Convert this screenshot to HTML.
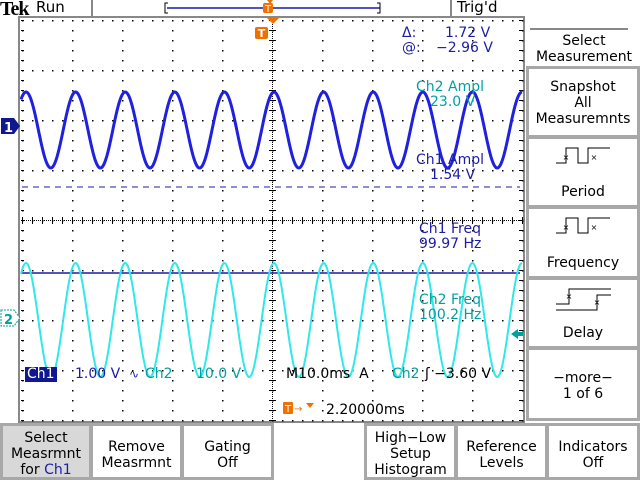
<!DOCTYPE html>
<html><head><meta charset="utf-8"><style>
body{margin:0;width:640px;height:480px;background:#fff;overflow:hidden;font-family:"DejaVu Sans","Liberation Sans",sans-serif;position:relative}
.t{position:absolute;font-size:14px;white-space:nowrap;line-height:15px}
.b{color:#1c1ca8}.c{color:#00a0a0}.k{color:#000}
.box{position:absolute;border:3px solid #a8a8a8;box-sizing:border-box;background:#fff;text-align:center;font-size:14px;line-height:16px;color:#000}
</style></head><body>
<svg width="640" height="480" style="position:absolute;left:0;top:0">
<rect x="19" y="17" width="505" height="405" fill="none" stroke="#888" stroke-width="2"/>
<g id="grid"></g>
<line x1="22" y1="187" x2="520" y2="187" stroke="#1c1ca8" stroke-dasharray="6,5"/>
<line x1="22" y1="273" x2="520" y2="273" stroke="#1c1ca8" stroke-width="1.5"/>
<path id="w2" fill="none" stroke="#30e8e8" stroke-width="2"/>
<path id="w1" fill="none" stroke="#2020e0" stroke-width="3"/>
<line x1="92" y1="0" x2="92" y2="17" stroke="#888" stroke-width="2"/>
<line x1="451" y1="0" x2="451" y2="17" stroke="#888" stroke-width="2"/>
<line x1="167" y1="8" x2="380" y2="8" stroke="#1c1ca8" stroke-width="1.5"/>
<path d="M168,3 h-3 v10 h3 M377,3 h3 v10 h-3" stroke="#000" fill="none"/>
<path d="M267,0 l6,0 l-3,4z" fill="#f07000"/>
<rect x="263" y="3" width="10" height="10" rx="2" fill="#f07000"/>
<text x="268" y="12" font-size="10" fill="#fff" text-anchor="middle" font-family="DejaVu Sans">T</text>
<path d="M267,18 l12,0 l-6,6z" fill="#f07000"/>
<rect x="255" y="27" width="13" height="12" rx="2" fill="#f07000"/>
<text x="261.5" y="37" font-size="11" fill="#fff" text-anchor="middle" font-weight="bold" font-family="DejaVu Sans">T</text>
<path d="M1,118 h13 l6,8 l-6,8 h-13z" fill="#101890"/>
<text x="4" y="132" font-size="13" fill="#fff" font-weight="bold" font-family="DejaVu Sans">1</text>
<path d="M1,310 h13 l6,8 l-6,8 h-13z" fill="#fff" stroke="#00a0a0" stroke-dasharray="2,1"/>
<text x="4" y="324" font-size="13" fill="#00a0a0" font-weight="bold" font-family="DejaVu Sans">2</text>
<path d="M511,334 l7,-5 v3 h5 v4 h-5 v3z" fill="#00a0a0"/>
<line x1="530" y1="29" x2="628" y2="29" stroke="#888" stroke-width="2"/>
<rect x="283" y="402" width="10" height="12" rx="1" fill="#f07000"/>
<text x="288" y="412" font-size="10" fill="#fff" text-anchor="middle" font-family="DejaVu Sans">T</text>
<text x="294" y="412" font-size="10" fill="#f07000" font-family="DejaVu Sans">→</text>
<path d="M306,403 l8,0 l-4,5z" fill="#f07000"/>
</svg>
<div class="t k" style="left:0;top:-1px;font-family:'Liberation Serif',serif;font-weight:bold;font-size:20px;line-height:20px;letter-spacing:-1px">Tek</div>
<div class="t k" style="left:36px;top:0;font-size:15px">Run</div>
<div class="t k" style="left:457px;top:0;font-size:15px">Trig'd</div>
<div class="t b" style="left:402px;top:26px">Δ:</div>
<div class="t b" style="left:445px;top:26px">1.72 V</div>
<div class="t b" style="left:402px;top:41px">@:</div>
<div class="t b" style="left:436px;top:41px">−2.96 V</div>
<div class="t c" style="left:416px;top:80px">Ch2 Ampl</div>
<div class="t c" style="left:430px;top:95px">23.0 V</div>
<div class="t b" style="left:416px;top:153px">Ch1 Ampl</div>
<div class="t b" style="left:430px;top:168px">1.54 V</div>
<div class="t b" style="left:419px;top:222px">Ch1 Freq</div>
<div class="t b" style="left:419px;top:237px">99.97 Hz</div>
<div class="t c" style="left:419px;top:293px">Ch2 Freq</div>
<div class="t c" style="left:419px;top:308px">100.2 Hz</div>
<div class="t" style="left:25px;top:367px;background:#101890;color:#fff;padding:0 2px">Ch1</div>
<div class="t b" style="left:75px;top:367px">1.00 V</div>
<div class="t b" style="left:129px;top:367px;font-size:12px">∿</div>
<div class="t c" style="left:145px;top:367px">Ch2</div>
<div class="t c" style="left:196px;top:367px">10.0 V</div>
<div class="t k" style="left:286px;top:367px">M10.0ms&nbsp;&nbsp;A</div>
<div class="t c" style="left:392px;top:367px">Ch2</div>
<div class="t k" style="left:425px;top:367px">ʃ −3.60 V</div>
<div class="t k" style="left:326px;top:403px">2.20000ms</div>
<div class="t k" style="left:530px;top:33px;width:108px;text-align:center;font-size:14px;line-height:16px">Select<br>Measurement</div>
<div class="box" style="left:526px;top:66px;width:114px;height:72px;padding-top:10px">Snapshot<br>All<br>Measuremnts</div>
<div class="box" style="left:526px;top:136px;width:114px;height:72px;padding-top:45px">Period</div>
<div class="box" style="left:526px;top:206px;width:114px;height:73px;padding-top:46px">Frequency</div>
<div class="box" style="left:526px;top:277px;width:114px;height:72px;padding-top:45px">Delay</div>
<div class="box" style="left:526px;top:347px;width:114px;height:74px;padding-top:20px">−more−<br>1 of 6</div>
<div class="box" style="left:0;top:423px;width:92px;height:57px;background:#d8d8d8;padding-top:4px">Select<br>Measrmnt<br>for <span style="color:#1c1ca8">Ch1</span></div>
<div class="box" style="left:90px;top:423px;width:93px;height:57px;padding-top:13px">Remove<br>Measrmnt</div>
<div class="box" style="left:181px;top:423px;width:93px;height:57px;padding-top:13px">Gating<br>Off</div>
<div class="box" style="left:364px;top:423px;width:93px;height:57px;padding-top:4px">High−Low<br>Setup<br>Histogram</div>
<div class="box" style="left:455px;top:423px;width:93px;height:57px;padding-top:13px">Reference<br>Levels</div>
<div class="box" style="left:546px;top:423px;width:94px;height:57px;padding-top:13px">Indicators<br>Off</div>
<svg width="640" height="480" style="position:absolute;left:0;top:0">
<path d="M556,163 h10 v-15 h12 v15 h10 v-15 h22" fill="none" stroke="#000"/>
<path d="M556,233 h10 v-15 h12 v15 h10 v-15 h22" fill="none" stroke="#000"/>
<path d="M556,304 h13 v-15 h42 M556,310 h41 v-15 h14" fill="none" stroke="#000"/>
<text x="566" y="160" font-size="8" fill="#000" text-anchor="middle">×</text>
<text x="594" y="160" font-size="8" fill="#000" text-anchor="middle">×</text>
<text x="566" y="230" font-size="8" fill="#000" text-anchor="middle">×</text>
<text x="594" y="230" font-size="8" fill="#000" text-anchor="middle">×</text>
<text x="569" y="299" font-size="8" fill="#000" text-anchor="middle">×</text>
<text x="597" y="305" font-size="8" fill="#000" text-anchor="middle">×</text>
</svg>
<script>
var g='',x,y;
for(x=22;x<=522;x+=50)for(y=20;y<=420;y+=10)g+='<rect x="'+x+'" y="'+y+'" width="1.5" height="1.5" fill="#000"/>';
for(y=20;y<=420;y+=50)for(x=22;x<=522;x+=10)g+='<rect x="'+x+'" y="'+y+'" width="1.5" height="1.5" fill="#000"/>';
for(x=22;x<=522;x+=2)g+='<rect x="'+x+'" y="220" width="1" height="1" fill="#000"/>';
for(y=20;y<=420;y+=2)g+='<rect x="272" y="'+y+'" width="1" height="1" fill="#000"/>';
for(x=22;x<=522;x+=10){g+='<rect x="'+x+'" y="217" width="1" height="7" fill="#000"/>';}
for(y=20;y<=420;y+=10){g+='<rect x="269" y="'+y+'" width="7" height="1" fill="#000"/>';g+='<rect x="21" y="'+y+'" width="3" height="1" fill="#000"/>';g+='<rect x="519" y="'+y+'" width="3" height="1" fill="#000"/>';}
document.getElementById('grid').innerHTML=g;
var p1='',p2='',P=49.6;
for(x=21;x<=522;x+=1){var c=Math.cos(2*Math.PI*(x-274)/P);p1+=(x==21?'M':'L')+x+','+(130-38*c).toFixed(1);p2+=(x==21?'M':'L')+x+','+(320-57*c).toFixed(1);}
document.getElementById('w1').setAttribute('d',p1);
document.getElementById('w2').setAttribute('d',p2);
</script>
</body></html>
